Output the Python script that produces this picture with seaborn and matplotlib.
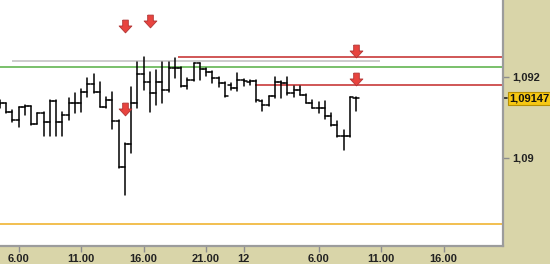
import numpy as np
import pandas as pd
import matplotlib
matplotlib.use("Agg")
import matplotlib.pyplot as plt
from matplotlib.path import Path
from matplotlib.transforms import blended_transform_factory
import seaborn as sns

# Half-hour OHLC bars
opens = [1.09133, 1.09136, 1.09114, 1.09094, 1.09126, 1.09128, 1.09084, 1.09111, 1.09089, 1.09141,
         1.09089, 1.09106, 1.09136, 1.09136, 1.09163, 1.09183, 1.09163, 1.09126, 1.09143, 1.09091,
         1.08978, 1.09035, 1.09136, 1.09207, 1.09188, 1.09160, 1.09188, 1.09168, 1.09222, 1.09222,
         1.09178, 1.09193, 1.09235, 1.09220, 1.09212, 1.09198, 1.09185, 1.09180, 1.09173, 1.09193,
         1.09188, 1.09190, 1.09141, 1.09131, 1.09153, 1.09188, 1.09185, 1.09160, 1.09168, 1.09156,
         1.09136, 1.09123, 1.09123, 1.09104, 1.09081, 1.09054, 1.09054, 1.09148]
highs = [1.09143, 1.09137, 1.09119, 1.09126, 1.09131, 1.09128, 1.09111, 1.09114, 1.09143, 1.09143,
         1.09114, 1.09148, 1.09160, 1.09170, 1.09198, 1.09207, 1.09188, 1.09151, 1.09163, 1.09094,
         1.09037, 1.09175, 1.09237, 1.09249, 1.09212, 1.09217, 1.09237, 1.09237, 1.09247, 1.09224,
         1.09198, 1.09235, 1.09235, 1.09222, 1.09214, 1.09200, 1.09188, 1.09185, 1.09210, 1.09195,
         1.09193, 1.09193, 1.09143, 1.09153, 1.09200, 1.09190, 1.09200, 1.09178, 1.09178, 1.09158,
         1.09143, 1.09138, 1.09141, 1.09111, 1.09091, 1.09069, 1.09151, 1.09151]
lows = [1.09123, 1.09112, 1.09089, 1.09077, 1.09106, 1.09081, 1.09084, 1.09054, 1.09054, 1.09054,
        1.09054, 1.09094, 1.09111, 1.09114, 1.09151, 1.09160, 1.09126, 1.09124, 1.09072, 1.08975,
        1.08909, 1.09012, 1.09123, 1.09168, 1.09114, 1.09131, 1.09136, 1.09163, 1.09198, 1.09175,
        1.09170, 1.09190, 1.09193, 1.09202, 1.09185, 1.09175, 1.09151, 1.09168, 1.09165, 1.09178,
        1.09180, 1.09138, 1.09116, 1.09128, 1.09148, 1.09148, 1.09156, 1.09151, 1.09156, 1.09136,
        1.09123, 1.09111, 1.09096, 1.09079, 1.09052, 1.09020, 1.09052, 1.09116]
closes = [1.09136, 1.09114, 1.09094, 1.09126, 1.09128, 1.09084, 1.09111, 1.09089, 1.09141, 1.09089,
          1.09106, 1.09136, 1.09136, 1.09163, 1.09183, 1.09163, 1.09126, 1.09143, 1.09091, 1.08978,
          1.09035, 1.09136, 1.09207, 1.09188, 1.09160, 1.09188, 1.09168, 1.09222, 1.09222, 1.09178,
          1.09193, 1.09235, 1.09220, 1.09212, 1.09198, 1.09185, 1.09153, 1.09173, 1.09193, 1.09190,
          1.09190, 1.09143, 1.09131, 1.09153, 1.09188, 1.09185, 1.09160, 1.09168, 1.09156, 1.09136,
          1.09123, 1.09123, 1.09104, 1.09081, 1.09054, 1.09054, 1.09151, 1.09147]

# time axis in hours from midnight of the first day
first_hour = 4.5
hours = first_hour + 0.5 * np.arange(len(closes))

# horizontal levels
level_gray = 1.09240
level_green = 1.09225
level_red_top = 1.09249
level_red_low = 1.09180
level_orange = 1.08837
gray_span = (5.48, 34.9)
red_top_start = 18.76
red_low_start = 24.92

# signal arrows
arrow_hours = [14.52, 16.48, 14.48, 33.0, 33.0]
arrow_prices = [1.09325, 1.09338, 1.09122, 1.09264, 1.09195]

# axis ticks
xtick_hours = [6, 11, 16, 21, 24, 30, 35, 40]
xtick_labels = ["6.00", "11.00", "16.00", "21.00", "12", "6.00", "11.00", "16.00"]
ytick_values = [1.090, 1.092]
ytick_labels = ["1,09", "1,092"]
last_price = closes[-1]
last_label = "1,09147"

TAN = "#d9d5a9"
sns.set_style("white")
plt.rcParams["font.family"] = ["Liberation Sans", "DejaVu Sans"]
plt.rcParams["font.weight"] = "bold"

# one segment per high-low range, open tick and close tick
w = 0.24
rows = []
for i, (t, o, h, l, c) in enumerate(zip(hours, opens, highs, lows, closes)):
    rows += [(3 * i, t, l), (3 * i, t, h),
             (3 * i + 1, t - w, o), (3 * i + 1, t, o),
             (3 * i + 2, t, c), (3 * i + 2, t + w, c)]
seg = pd.DataFrame(rows, columns=["seg", "t", "price"])

fig = plt.figure(figsize=(5.5, 2.64), dpi=100, facecolor=TAN)
ax = fig.add_axes([0, 18 / 264, 503 / 550, 246 / 264])
ax.set_facecolor("white")

ax.axhline(level_orange, color="#f0b432", lw=1.2, zorder=1)
ax.axhline(level_green, color="#62b552", lw=1.2, zorder=1)
ax.hlines(level_gray, *gray_span, color="#c4c4c4", lw=1.2, zorder=1)
ax.hlines(level_red_top, red_top_start, 50, color="#c83a3a", lw=1.2, zorder=1)
ax.hlines(level_red_low, red_low_start, 50, color="#c83a3a", lw=1.2, zorder=1)

sns.lineplot(data=seg, x="t", y="price", units="seg", estimator=None, sort=False,
             color="black", lw=1.1, ax=ax, legend=False, zorder=3)

arrow = Path([(-0.22, 0.5), (0.22, 0.5), (0.22, 0.04), (0.5, 0.04), (0.0, -0.5),
              (-0.5, 0.04), (-0.22, 0.04), (-0.22, 0.5)])
sns.scatterplot(x=arrow_hours, y=arrow_prices, marker=arrow, s=85, color="#e8443f",
                edgecolor="#b03434", linewidth=0.6, ax=ax, zorder=5, legend=False)

ax.set_xlim(4.52, 44.76)
ax.set_ylim(1.087827, 1.093901)
ax.set_xlabel("")
ax.set_ylabel("")

for side in ("left", "top"):
    ax.spines[side].set_visible(False)
for side in ("right", "bottom"):
    ax.spines[side].set_color("#9c9c9c")
    ax.spines[side].set_linewidth(1.6)

ax.set_xticks(xtick_hours)
ax.set_xticklabels(xtick_labels)
ax.yaxis.tick_right()
ax.set_yticks(ytick_values)
ax.set_yticklabels(ytick_labels)
ax.tick_params(axis="x", bottom=True, length=4, width=1, color="#8c8c8c", pad=2,
               labelsize=8, labelcolor="#222222")
ax.tick_params(axis="y", right=True, left=False, length=4, width=1, color="#8c8c8c", pad=3,
               labelsize=8, labelcolor="#222222")
for lab in ax.get_xticklabels() + ax.get_yticklabels():
    lab.set_fontweight("bold")

trans = blended_transform_factory(ax.transAxes, ax.transData)
ax.plot([1.0, 1.0 + 4 / 503], [last_price, last_price], transform=trans, color="#222222",
        lw=1.2, clip_on=False)
ax.annotate(last_label, xy=(1.0, last_price), xycoords=trans, xytext=(4.5, 0),
            textcoords="offset points", ha="left", va="center", fontsize=8,
            fontweight="bold", color="#111111", annotation_clip=False,
            bbox=dict(boxstyle="square,pad=0.15", fc="#f6c814", ec="#b89000", lw=0.8))

fig.savefig("out.png", dpi=100, facecolor=TAN)
